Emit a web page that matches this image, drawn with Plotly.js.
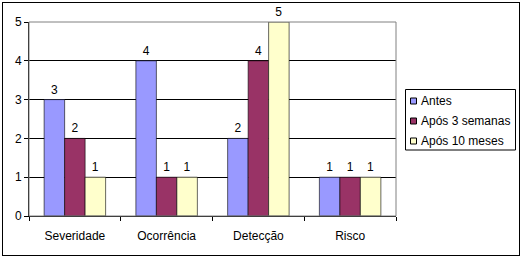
<!DOCTYPE html>
<html><head><meta charset="utf-8">
<script src="https://cdn.plot.ly/plotly-3.0.1.min.js"></script>
<style>
body{margin:0;background:#fff;}
#chart{position:absolute;left:2px;top:2px;width:516px;height:252px;border:1px solid #000;}
</style></head><body>
<div id="chart"></div>
<script>
const categories = ["Severidade", "Ocorrência", "Detecção", "Risco"];
const antes = [3, 4, 2, 1];
const apos3semanas = [2, 1, 4, 1];
const apos10meses = [1, 1, 5, 1];
const seriesNames = ["Antes", "Após 3 semanas", "Após 10 meses"];
const colors = ["#9999FF", "#993366", "#FFFFCC"];

const font = {family: "Liberation Sans, Arial, sans-serif", size: 12, color: "#000"};
const data = [antes, apos3semanas, apos10meses].map((vals, i) => ({
  type: "bar", x: categories, y: vals, name: seriesNames[i],
  marker: {color: colors[i], line: {color: "#000", width: 0.6}},
  text: vals.map(String), textposition: "outside", cliponaxis: false,
  textfont: font
}));

// plot area in page pixels (for the hand-drawn Excel-style legend)
const W = 516, H = 252, ML = 26, MR = 123, MT = 19, MB = 39;
const pw = W - ML - MR, ph = H - MT - MB;
const offX = 3, offY = 3;
const px = x => (x - offX - ML) / pw;
const py = y => (H - MB - (y - offY)) / ph;

const shapes = [{type: "rect", xref: "paper", yref: "paper", x0: 0, x1: 1, y0: 0, y1: 1,
  line: {color: "#808080", width: 1}, layer: "above"},
  {type: "rect", xref: "paper", yref: "paper", x0: px(405.5), x1: px(515.5), y0: py(150), y1: py(89.5),
  line: {color: "#000", width: 1}, fillcolor: "rgba(0,0,0,0)"}];
const annotations = [];
seriesNames.forEach((nm, i) => {
  const cy = 101 + i * 20;
  shapes.push({type: "rect", xref: "paper", yref: "paper",
    x0: px(410.5), x1: px(416.5), y0: py(cy + 3), y1: py(cy - 3),
    fillcolor: colors[i], line: {color: "#000", width: 1}});
  annotations.push({xref: "paper", yref: "paper", x: px(419), y: py(cy), text: nm,
    xanchor: "left", yanchor: "middle", showarrow: false, font: font});
});

const layout = {
  width: W, height: H,
  margin: {l: ML, r: MR, t: MT, b: MB, autoexpand: false},
  paper_bgcolor: "#fff", plot_bgcolor: "#fff",
  font: font, showlegend: false,
  barmode: "group", bargap: 0.33, bargroupgap: 0,
  xaxis: {showgrid: false, showline: true, linecolor: "#000", linewidth: 1,
    ticks: "outside", tickson: "boundaries", ticklen: 4, tickcolor: "#000",
    ticklabelstandoff: 9, tickfont: font, fixedrange: true},
  yaxis: {range: [0, 5], dtick: 1, showgrid: true, gridcolor: "#000", gridwidth: 1,
    showline: true, linecolor: "#000", ticks: "outside", ticklen: 4, tickcolor: "#000",
    tickfont: font, zeroline: false, fixedrange: true},
  shapes: shapes, annotations: annotations
};
Plotly.newPlot("chart", data, layout, {displayModeBar: false, staticPlot: true});
</script></body></html>
